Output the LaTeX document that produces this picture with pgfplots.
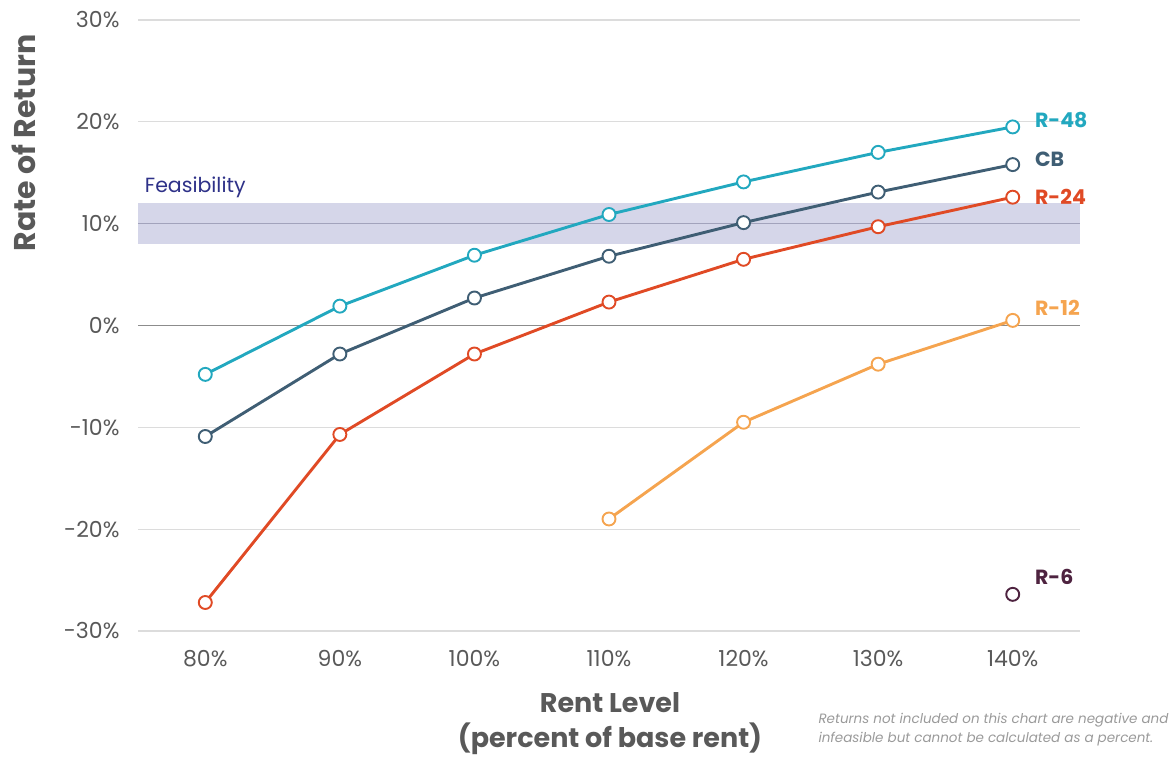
\documentclass[border=0pt]{standalone}
\usepackage{fontspec}
\setmainfont{Poppins}
\usepackage{pgfplots}
\pgfplotsset{compat=1.18}

\definecolor{cR48}{HTML}{22A8BF}
\definecolor{cCB}{HTML}{3F5E74}
\definecolor{cR24}{HTML}{E04A25}
\definecolor{cR12}{HTML}{F5A44F}
\definecolor{cR6}{HTML}{4E2340}
\definecolor{gridgray}{HTML}{DCDCDC}
\definecolor{zerogray}{HTML}{8C8C8C}
\definecolor{band}{HTML}{D5D6E9}
\definecolor{bandline}{HTML}{A2A3BC}
\definecolor{feas}{HTML}{2E3188}
\definecolor{ticktext}{HTML}{595959}
\definecolor{labeltext}{HTML}{595959}
\definecolor{notetext}{HTML}{9A9A9A}

\pgfplotsset{
  series/.style={line width=2.9pt, color=#1, mark=*, mark size=6.5pt,
    mark options={fill=white, draw=#1, line width=1.9pt}},
}

\begin{document}
\begin{tikzpicture}[x=1pt,y=1pt]
\useasboundingbox (0,0) rectangle (1174,759);
\begin{axis}[
  at={(138pt,128pt)}, anchor=south west,
  scale only axis, width=942pt, height=611pt,
  xmin=-0.5, xmax=6.5, ymin=-30, ymax=30,
  clip=false,
  axis line style={draw=none},
  major tick style={draw=none},
  xtick={0,...,6},
  xticklabels={80\%,90\%,100\%,110\%,120\%,130\%,140\%},
  ytick={-30,-20,...,30},
  yticklabels={-30\%,-20\%,-10\%,0\%,10\%,20\%,30\%},
  ymajorgrids, grid style={color=gridgray, line width=1.2pt},
  tick label style={font=\fontsize{22}{26}\selectfont, text=ticktext},
  yticklabel style={xshift=-15pt},
  xticklabel style={yshift=-16pt},
  /pgf/number format/assume math mode=true,
]
% feasibility band (8% to 12%) with its 10% midline
\fill[band] (axis cs:-0.5,8) rectangle (axis cs:6.5,12);
\draw[bandline, line width=1.2pt] (axis cs:-0.5,10) -- (axis cs:6.5,10);
\draw[zerogray, line width=1.2pt] (axis cs:-0.5,0) -- (axis cs:6.5,0);

\addplot[series=cR48] coordinates {(0,-4.8) (1,1.9) (2,6.9) (3,10.9) (4,14.1) (5,17.0) (6,19.5)};
\addplot[series=cCB] coordinates {(0,-10.9) (1,-2.8) (2,2.7) (3,6.8) (4,10.1) (5,13.1) (6,15.8)};
\addplot[series=cR24] coordinates {(0,-27.2) (1,-10.7) (2,-2.8) (3,2.3) (4,6.5) (5,9.7) (6,12.6)};
\addplot[series=cR12] coordinates {(3,-19.0) (4,-9.5) (5,-3.8) (6,0.5)};
\addplot[series=cR6, only marks] coordinates {(6,-26.4)};

% series names at the right end
\begin{scope}[every node/.style={anchor=west, font=\bfseries\fontsize{20.5}{24}\selectfont}]
\node[text=cR48] at (axis cs:6.14,20.2) {R-48};
\node[text=cCB]  at (axis cs:6.14,16.3) {CB};
\node[text=cR24] at (axis cs:6.14,12.6) {R-24};
\node[text=cR12] at (axis cs:6.14,1.7) {R-12};
\node[text=cR6]  at (axis cs:6.14,-24.7) {R-6};
\end{scope}
\node[anchor=base west, text=feas, font=\fontsize{20.5}{24}\selectfont, inner sep=0pt]
  at (axis cs:-0.45,13.1) {Feasibility};
\end{axis}

% axis titles
\node[rotate=90, text=labeltext, font=\bfseries\fontsize{30}{34}\selectfont]
  at (24,616) {Rate of Return};
\node[align=center, text=labeltext, font=\bfseries\fontsize{27}{35}\selectfont]
  at (610,35) {Rent Level\\(percent of base rent)};
\node[align=left, anchor=east, text=notetext, font=\itshape\fontsize{13.5}{19}\selectfont]
  at (1172,29) {Returns not included on this chart are negative and\\infeasible but cannot be calculated as a percent.};
\end{tikzpicture}
\end{document}
